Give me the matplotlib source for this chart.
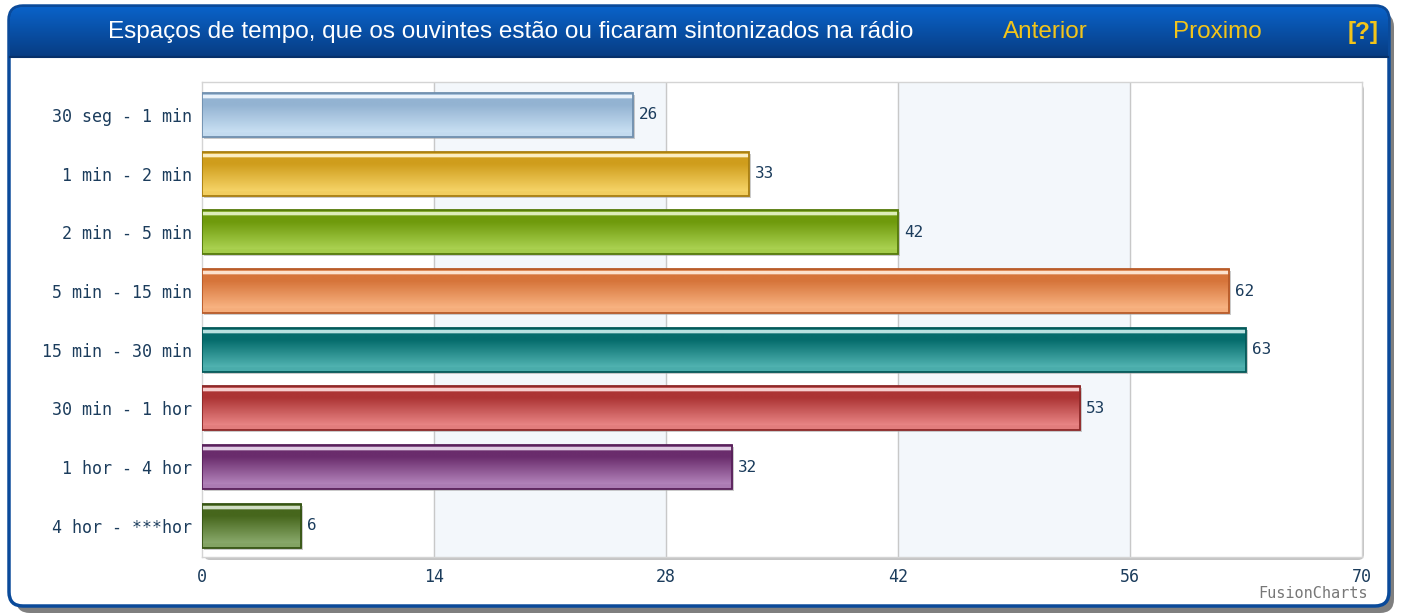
import numpy as np
import matplotlib
matplotlib.use("Agg")
import matplotlib.pyplot as plt
from matplotlib.patches import FancyBboxPatch, Rectangle
from matplotlib.colors import to_rgb
from matplotlib.transforms import offset_copy

TITLE = "Espaços de tempo, que os ouvintes estão ou ficaram sintonizados na rádio"
CATEGORIES = ["30 seg - 1 min", "1 min - 2 min", "2 min - 5 min", "5 min - 15 min",
              "15 min - 30 min", "30 min - 1 hor", "1 hor - 4 hor", "4 hor - ***hor"]
VALUES = [26, 33, 42, 62, 63, 53, 32, 6]
X_TICKS = [0, 14, 28, 42, 56, 70]

# (dark top colour, light bottom colour, edge colour) per bar
BAR_STYLES = [
    ("#93b3d2", "#c9e0f3", "#6f8fae"),
    ("#cf9d1c", "#f6d468", "#a87e10"),
    ("#6f9a0c", "#abd252", "#557a0a"),
    ("#d6743a", "#f9b483", "#b85a28"),
    ("#056c6c", "#52b4b2", "#045858"),
    ("#ac3434", "#e98686", "#8c2828"),
    ("#6a2c6c", "#b384bb", "#58205a"),
    ("#46661c", "#8aaa6c", "#365414"),
]

W, H = 1402, 614
fig = plt.figure(figsize=(W / 100, H / 100), dpi=100)

# background canvas in pixel coordinates
bg = fig.add_axes([0, 0, 1, 1])
bg.set_xlim(0, W)
bg.set_ylim(H, 0)
bg.axis("off")

# outer panel shadow + panel
bg.add_patch(FancyBboxPatch((16, 13), 1378, 600, boxstyle="round,pad=0,rounding_size=14",
                            fc="#7f7f7f", ec="none"))
bg.add_patch(FancyBboxPatch((9, 6), 1380, 600, boxstyle="round,pad=0,rounding_size=14",
                            fc="white", ec="#0a4a9a", lw=2.5))
# header gradient
grad = np.linspace(0, 1, 60)[:, None]
top_c, bot_c = np.array(to_rgb("#0a62c8")), np.array(to_rgb("#073c82"))
hdr = top_c + (bot_c - top_c) * grad[:, :, None]
hdr = np.repeat(hdr, 2, axis=1)
clip = FancyBboxPatch((10, 7), 1378, 90, boxstyle="round,pad=0,rounding_size=13",
                      fc="none", ec="none")
bg.add_patch(clip)
im = bg.imshow(hdr, extent=(10, 1388, 57, 7), aspect="auto", zorder=2)
im.set_clip_path(clip)
bg.plot([10, 1388], [57, 57], color="#06306a", lw=1.5, zorder=3)

hfont = "Liberation Sans"
bg.text(511, 32, TITLE, color="white", fontsize=17.5, family=hfont,
        ha="center", va="center", zorder=4)
bg.text(1045, 32, "Anterior", color="#f2c41a", fontsize=17.5, family=hfont,
        ha="center", va="center", zorder=4)
bg.text(1217, 32, "Proximo", color="#f2c41a", fontsize=17.5, family=hfont,
        ha="center", va="center", zorder=4)
bg.text(1363, 32, "[?]", color="#f2c41a", fontsize=17.5, family=hfont,
        fontweight="bold", ha="center", va="center", zorder=4)

# plot area shadow
bg.add_patch(FancyBboxPatch((204, 84), 1160, 476, boxstyle="round,pad=0,rounding_size=6",
                            fc="#c4c4c4", ec="none", zorder=1))
bg.text(1368, 593, "FusionCharts", color="#777777", fontsize=11, family="DejaVu Sans Mono",
        ha="right", va="center")

# main plot
ax = fig.add_axes([202 / W, 1 - 557 / H, 1160 / W, 475 / H])
ax.set_facecolor("white")
y = np.arange(len(CATEGORIES))
ylim = (len(CATEGORIES) - 0.47, -0.56)
ax.set_xlim(X_TICKS[0], X_TICKS[-1])
ax.set_ylim(*ylim)

for a, b in zip(X_TICKS[1::2], X_TICKS[2::2]):
    ax.axvspan(a, b, color="#f3f7fb", zorder=0)
for t in X_TICKS[1:-1]:
    ax.axvline(t, color="#c8c8c8", lw=1, zorder=1)

bar_h = 0.75
bars = ax.barh(y, VALUES, height=bar_h, color="none", zorder=3)
shadow_tr = offset_copy(ax.transData, fig=fig, x=2, y=-2, units="dots")
n = 64
t = np.linspace(0, 1, n)
for bar, v, yi, (dark, light, edge) in zip(bars, VALUES, y, BAR_STYLES):
    ax.add_patch(Rectangle((0, yi - bar_h / 2), v, bar_h, fc="#a8a8a8", ec="none",
                           alpha=0.6, transform=shadow_tr, zorder=2))
    d, l = np.array(to_rgb(dark)), np.array(to_rgb(light))
    cols = np.zeros((n, 3))
    for i, ti in enumerate(t):
        if ti < 0.05:
            c = d
        elif ti < 0.13:
            c = l * 0.4 + np.ones(3) * 0.6
        elif ti < 0.28:
            c = d
        elif ti < 0.9:
            c = d + (l - d) * (ti - 0.28) / 0.62
        else:
            c = l * 0.9 + d * 0.1
        cols[i] = c
    img = np.repeat(cols[:, None, :], 2, axis=1)
    gi = ax.imshow(img, extent=(0, v, yi + bar_h / 2, yi - bar_h / 2),
                   aspect="auto", zorder=3, interpolation="bilinear")
    gi.set_clip_path(bar)
    ax.add_patch(Rectangle((0, yi - bar_h / 2), v, bar_h, fc="none", ec=edge,
                           lw=1.3, zorder=4))
    ax.text(v + 0.35, yi, str(v), color="#1b3c5c", fontsize=11.5, va="center",
            ha="left", family="DejaVu Sans Mono", zorder=5)

ax.set_xlim(X_TICKS[0], X_TICKS[-1])
ax.set_ylim(*ylim)
ax.set_xticks(X_TICKS)
ax.set_xticklabels([str(x) for x in X_TICKS], family="DejaVu Sans Mono")
ax.set_yticks(y)
ax.set_yticklabels(CATEGORIES, family="DejaVu Sans Mono")
ax.tick_params(length=0, colors="#1b3c5c", labelsize=12, pad=8)
ax.tick_params(axis="y", pad=7)
for s in ax.spines.values():
    s.set_color("#d4d4d4")
    s.set_linewidth(1)

fig.savefig("out.png", dpi=100)
